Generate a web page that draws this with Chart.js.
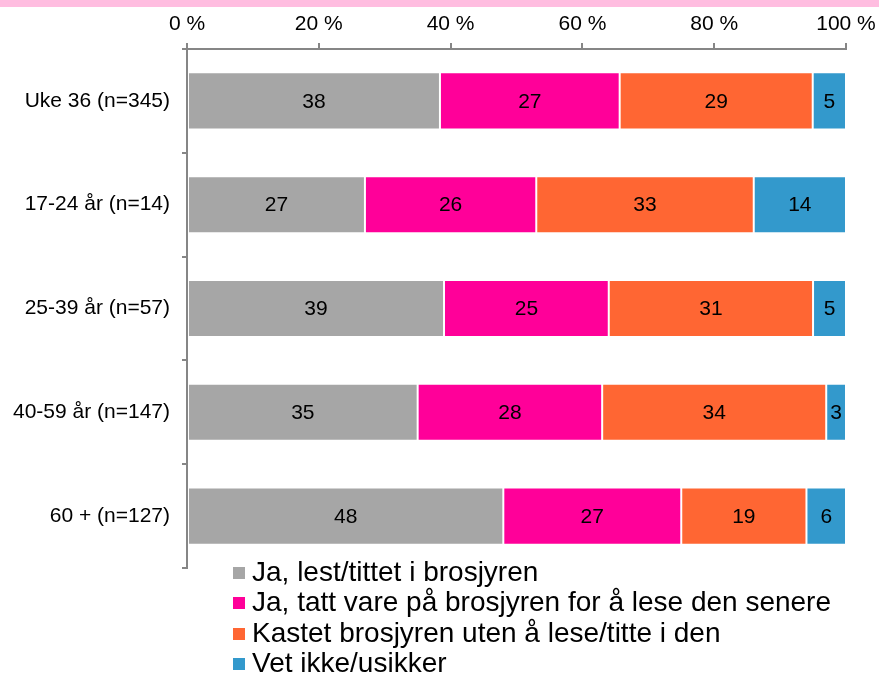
<!DOCTYPE html>
<html>
<head>
<meta charset="utf-8">
<script src="https://cdn.jsdelivr.net/npm/chart.js@4.4.1/dist/chart.umd.min.js"></script>
<style>
  body { margin: 0; background: #fff; font-family: "Liberation Sans", Arial, sans-serif; }
  #wrap { position: relative; width: 879px; height: 675px; }
  #strip { position: absolute; left: 0; top: 0; width: 879px; height: 7px; background: #ffbde0; }
  #legend { position: absolute; left: 233px; top: 557px; font-size: 28px; line-height: 30.4px; color: #000; }
  #legend div { white-space: nowrap; }
  #legend span { display: inline-block; width: 12px; height: 12px; margin-right: 7px; vertical-align: 2px; }
</style>
</head>
<body>
<div id="wrap">
  <canvas id="chart" width="879" height="675"></canvas>
  <div id="strip"></div>
  <div id="legend"></div>
</div>
<script>
// Data
const groups = ["Uke 36 (n=345)", "17-24 år (n=14)", "25-39 år (n=57)", "40-59 år (n=147)", "60 + (n=127)"];
const lest = [38, 27, 39, 35, 48];
const tattVare = [27, 26, 25, 28, 27];
const kastet = [29, 33, 31, 34, 19];
const vetIkke = [5, 14, 5, 3, 6];
const seriesNames = [
  "Ja, lest/tittet i brosjyren",
  "Ja, tatt vare på brosjyren for å lese den senere",
  "Kastet brosjyren uten å lese/titte i den",
  "Vet ikke/usikker"
];
const xTicks = [0, 20, 40, 60, 80, 100];

const colors = ["#a6a6a6", "#ff0099", "#ff6633", "#3399cc"];
const allSeries = [lest, tattVare, kastet, vetIkke];

// 100 % stacked: share of each row total
const totals = groups.map((g, i) => allSeries.reduce((s, arr) => s + arr[i], 0));

const datasets = allSeries.map((arr, k) => ({
  label: seriesNames[k],
  data: arr.map((v, i) => v / totals[i] * 100),
  raw: arr,
  backgroundColor: colors[k],
  borderColor: "#ffffff",
  borderWidth: 1,
  borderSkipped: false,
  barPercentage: 0.55,
  categoryPercentage: 1
}));

// value labels inside the bars
const barLabels = {
  id: "barLabels",
  afterDatasetsDraw(chart) {
    const ctx = chart.ctx;
    ctx.save();
    ctx.font = "21px 'Liberation Sans', Arial, sans-serif";
    ctx.fillStyle = "#000";
    ctx.textAlign = "center";
    ctx.textBaseline = "middle";
    chart.data.datasets.forEach((ds, k) => {
      chart.getDatasetMeta(k).data.forEach((bar, i) => {
        const p = bar.getProps(["x", "y", "base"], true);
        ctx.fillText(String(ds.raw[i]), (p.x + p.base) / 2, p.y + 1);
      });
    });
    ctx.restore();
  }
};

Chart.defaults.font.family = "'Liberation Sans', Arial, sans-serif";
Chart.defaults.font.size = 21;
Chart.defaults.color = "#000";

new Chart(document.getElementById("chart"), {
  type: "bar",
  data: { labels: groups, datasets: datasets },
  options: {
    indexAxis: "y",
    responsive: false,
    animation: false,
    layout: { padding: { top: 0, right: 33, bottom: 107, left: 0 } },
    plugins: {
      legend: { display: false },
      tooltip: { enabled: false }
    },
    scales: {
      x: {
        position: "top",
        stacked: true,
        min: 0,
        max: 100,
        afterBuildTicks: (scale) => { scale.ticks = xTicks.map((v) => ({ value: v })); },
        afterFit: (scale) => {
          scale.height = 49;
          scale.paddingLeft = 0;
          scale.paddingRight = 0;
        },
        ticks: { padding: 6, callback: (v) => v + " %" },
        grid: { drawOnChartArea: false, tickLength: 6, color: "#868686", lineWidth: 2 },
        border: { color: "#868686", width: 2 }
      },
      y: {
        stacked: true,
        afterFit: (scale) => { scale.width = 187; },
        ticks: { padding: 12 },
        grid: { offset: true, drawOnChartArea: false, tickLength: 5, color: "#868686", lineWidth: 2 },
        border: { color: "#868686", width: 2 }
      }
    }
  },
  plugins: [barLabels]
});

// Legend
const legend = document.getElementById("legend");
seriesNames.forEach((name, k) => {
  const row = document.createElement("div");
  const box = document.createElement("span");
  box.style.background = colors[k];
  row.appendChild(box);
  row.appendChild(document.createTextNode(name));
  legend.appendChild(row);
});
</script>
</body>
</html>
